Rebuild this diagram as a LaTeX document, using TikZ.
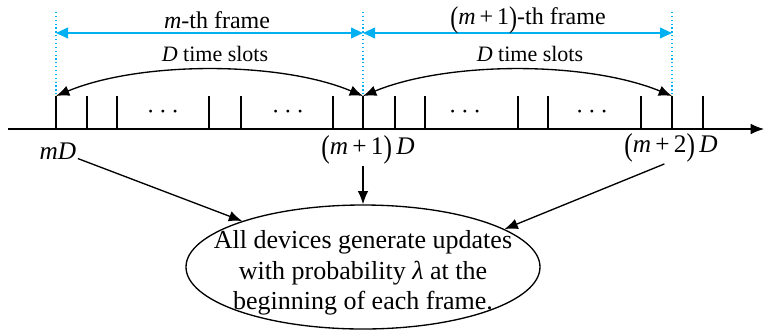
\documentclass[tikz,border=0pt]{standalone}
\usepackage{fontspec}
\usepackage{graphicx}
\setmainfont{Liberation Serif}
\usetikzlibrary{arrows.meta,shapes.geometric}
\definecolor{skyb}{RGB}{0,176,240}
\newcommand{\bigp}[1]{\raisebox{-0.12em}{\scalebox{1}[1.25]{#1}}}
\begin{document}
\begin{tikzpicture}[x=0.75pt,y=-0.75pt,
  tickline/.style={line width=0.9pt,black},
  bluearr/.style={line width=1.4pt,skyb,{Triangle[length=9pt,width=8pt]}-{Triangle[length=9pt,width=8pt]}},
  bluedot/.style={line width=0.9pt,skyb,dotted},
  curvearr/.style={line width=1pt,black,{Latex[length=10pt,width=8pt]}-{Latex[length=10pt,width=8pt]}},
  downarr/.style={line width=1pt,black,-{Latex[length=10pt,width=8pt]}},
  axlab/.style={font=\fontsize{19}{22}\selectfont,inner sep=1pt},
  ttl/.style={font=\fontsize{18}{21}\selectfont,inner sep=1pt},
  slots/.style={font=\fontsize{16.5}{19}\selectfont,inner sep=1pt},
  dotsty/.style={font=\fontsize{22}{24}\selectfont,inner sep=0pt}]
\useasboundingbox (0,0) rectangle (764,330);
% axis
\coordinate (axL) at (8,129);
\coordinate (axR) at (764,129);
\draw[line width=0.9pt,-{Latex[length=10pt,width=8pt]}] (axL) -- (axR);
% ticks
\foreach \x/\n in {56/t0,87/t1,117/t2,209/t3,241/t4,333/t5,363/t6,395/t7,425/t8,518/t9,548/t10,641/t11,672/t12,703/t13}{
  \coordinate (\n) at (\x,96);
  \coordinate (\n b) at (\x,129);
  \draw[tickline] (\n) -- (\n b);
}
% dots
\node[dotsty] (d1) at (163,112) {$\cdots$};
\node[dotsty] (d2) at (288,112) {$\cdots$};
\node[dotsty] (d3) at (465,112) {$\cdots$};
\node[dotsty] (d4) at (592,112) {$\cdots$};
% blue dotted verticals
\coordinate (v0) at (56,12);
\coordinate (v1) at (363,12);
\coordinate (v2) at (672,12);
\draw[bluedot] (v0) -- (t0);
\draw[bluedot] (v1) -- (t6);
\draw[bluedot] (v2) -- (t12);
% blue arrows
\coordinate (b0) at (56,33);
\coordinate (b1) at (363,33);
\coordinate (b2) at (672,33);
\draw[bluearr] (b0) -- (b1);
\draw[bluearr] (b1) -- (b2);
% titles
\node[ttl] (f1) at (217,20) {\textit{m}-th frame};
\node[ttl] (f2) at (528,20) {\bigp{(}\textit{m}\,+\,1\bigp{)}-th frame};
\node[slots] (s1) at (215,54) {\textit{D} time slots};
\node[slots] (s2) at (530,54) {\textit{D} time slots};
% curved arrows
\draw[curvearr] (t0) .. controls (140,61) and (280,61) .. (t6);
\draw[curvearr] (t6) .. controls (448,61) and (587,61) .. (t12);
% axis labels
\node[axlab] (lmD) at (58,151) {\textit{mD}};
\node[axlab] (lm1) at (368,150) {\bigp{(}\textit{m}\,+\,1\bigp{)}\,\textit{D}};
\node[axlab] (lm2) at (671,148) {\bigp{(}\textit{m}\,+\,2\bigp{)}\,\textit{D}};
% ellipse
\node[ellipse,draw,line width=1pt,minimum width=265.5pt,minimum height=93pt,inner sep=0pt] (ell) at (363,267) {};
\node[font=\fontsize{19.5}{23}\selectfont,align=center,inner sep=0pt] (etxt) at (363,273)
  {All devices generate updates\\with probability \textit{λ} at the\\beginning of each frame.};
% arrows to ellipse
\draw[downarr] (lmD) -- (ell);
\draw[downarr] (t6 |- lm1.south) -- (ell.north);
\draw[downarr] ([xshift=-5pt]lm2.south) -- (ell.15.7);
\end{tikzpicture}
\end{document}
